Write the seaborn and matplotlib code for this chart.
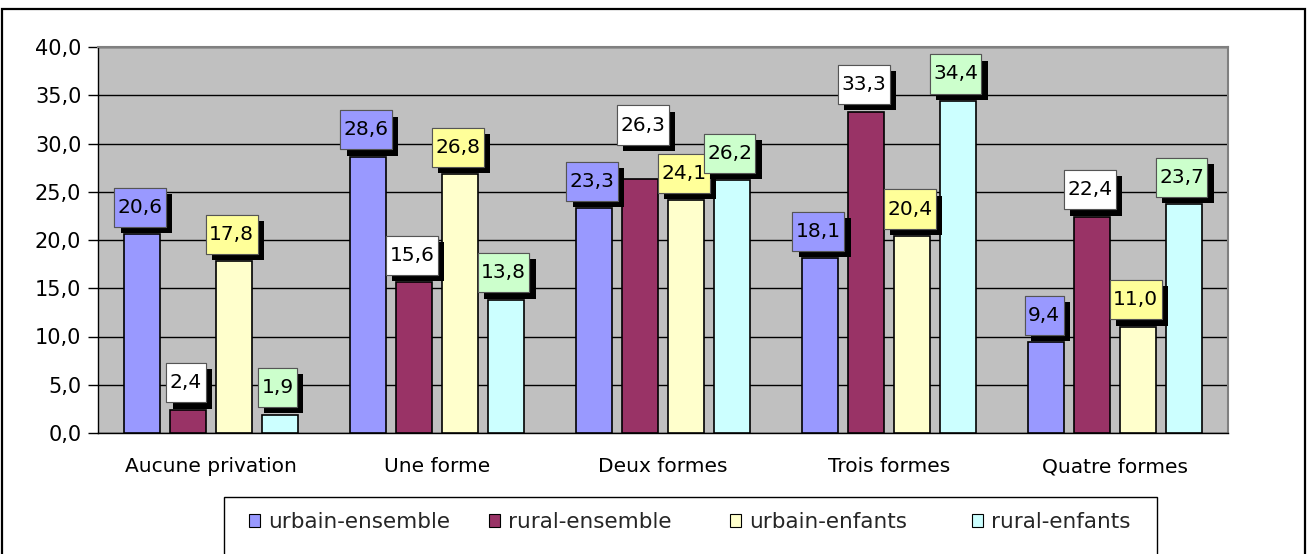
import matplotlib
matplotlib.use("Agg")
import matplotlib.pyplot as plt
import matplotlib.patheffects as pe
from matplotlib.patches import Patch, Rectangle
from matplotlib.path import Path
from matplotlib.ticker import FuncFormatter, MultipleLocator, FixedLocator
import pandas as pd
import seaborn as sns

# Data
categories = ["Aucune privation", "Une forme", "Deux formes", "Trois formes", "Quatre formes"]
series = ["urbain-ensemble", "rural-ensemble", "urbain-enfants", "rural-enfants"]
urbain_ensemble = [20.6, 28.6, 23.3, 18.1, 9.4]
rural_ensemble = [2.4, 15.6, 26.3, 33.3, 22.4]
urbain_enfants = [17.8, 26.8, 24.1, 20.4, 11.0]
rural_enfants = [1.9, 13.8, 26.2, 34.4, 23.7]

# Styling
bar_colors = ["#9999FF", "#993366", "#FFFFCC", "#CCFFFF"]
label_colors = ["#9999FF", "#FFFFFF", "#FFFF99", "#CCFFCC"]
# label nudges in points (relative to the default position above the bar)
label_nudges = {("Deux formes", "rural-ensemble"): (3.5, 19.5)}
# legend entry anchors (figure pixels, left edge of the swatch)
legend_x = [249, 489, 730, 972]

values = [urbain_ensemble, rural_ensemble, urbain_enfants, rural_enfants]
df = pd.DataFrame(
    [(cat, s, v) for s, vals in zip(series, values) for cat, v in zip(categories, vals)],
    columns=["categorie", "serie", "valeur"],
)

sns.set_style("white")
plt.rcParams["font.family"] = ["DejaVu Sans"]


def label_box(x0, y0, width, height, mutation_size, padx=0.17, pady=0.5):
    """Square box with separate horizontal and vertical padding."""
    px, py = padx * mutation_size, pady * mutation_size
    x0, y0, x1, y1 = x0 - px, y0 - py, x0 + width + px, y0 + height + py
    return Path([(x0, y0), (x1, y0), (x1, y1), (x0, y1), (x0, y0)], closed=True)


W, H = 1307, 554
fig = plt.figure(figsize=(W / 100, H / 100), dpi=100)
ax = fig.add_axes([98 / W, 1 - 433 / H, (1228 - 98) / W, (433 - 47) / H])
ax.set_facecolor("#C0C0C0")

sns.barplot(
    data=df, x="categorie", y="valeur", hue="serie", order=categories,
    hue_order=series, palette=bar_colors, saturation=1, width=0.81, gap=0.21,
    edgecolor="black", linewidth=1.2, errorbar=None, legend=False, ax=ax,
    zorder=3,
)

ax.set_ylim(0, 40)
ax.set_xlim(-0.5, len(categories) - 0.5)
ax.yaxis.set_major_locator(MultipleLocator(5))
ax.yaxis.set_major_formatter(FuncFormatter(lambda v, p: f"{v:.1f}".replace(".", ",")))
ax.grid(axis="y", color="black", linewidth=1.0, zorder=1)
ax.set_axisbelow(True)
ax.set_xlabel("")
ax.set_ylabel("")

# category boundaries carry the tick marks, labels sit at the centres
ax.xaxis.set_minor_locator(FixedLocator([i - 0.5 for i in range(len(categories) + 1)]))
ax.tick_params(axis="x", which="major", length=0, pad=17.5, labelsize=14.5, colors="black")
ax.tick_params(axis="x", which="minor", length=7, width=1, direction="out", color="black")
ax.tick_params(axis="y", which="major", length=7, width=1, direction="out", pad=5,
               labelsize=15, colors="black", left=True)

for side in ["left", "bottom"]:
    ax.spines[side].set_color("black")
    ax.spines[side].set_linewidth(1.0)
for side in ["top", "right"]:
    ax.spines[side].set_color("#808080")
    ax.spines[side].set_linewidth(1.5)

# Boxed value labels with a drop shadow
for s_idx, cont in enumerate(ax.containers):
    for c_idx, bar in enumerate(cont):
        val = values[s_idx][c_idx]
        dx, dy = label_nudges.get((categories[c_idx], series[s_idx]), (0, 0))
        t = ax.annotate(
            f"{val:.1f}".replace(".", ","),
            xy=(bar.get_x() + bar.get_width() / 2, bar.get_height()),
            xytext=(-1.5 + dx, 19.5 + dy), textcoords="offset points",
            ha="center", va="center", fontsize=14.5, color="black", zorder=6,
            bbox=dict(boxstyle=label_box, facecolor=label_colors[s_idx],
                      edgecolor="#555555", linewidth=0.8),
        )
        t.get_bbox_patch().set_path_effects([
            pe.withSimplePatchShadow(offset=(4.5, -4.5), shadow_rgbFace="black", alpha=1.0),
            pe.Normal(),
        ])

# Legend: one entry per anchor so the swatches sit at fixed positions
for name, color, x in zip(series, bar_colors, legend_x):
    fig.legend(
        [Patch(facecolor=color, edgecolor="black", linewidth=0.8)], [name],
        loc="center left", bbox_to_anchor=(x / W, 1 - 522 / H),
        frameon=False, fontsize=15.5, handlelength=0.5, handleheight=0.6,
        handletextpad=0.4, borderpad=0, borderaxespad=0,
    )
fig.add_artist(Rectangle((224 / W, -0.1), (1157 - 224) / W, 0.1 + 1 - 497 / H,
                         transform=fig.transFigure, facecolor="none",
                         edgecolor="black", linewidth=1.0))

# Chart frame
fig.add_artist(Rectangle((2 / W, -0.1), (1305 - 2) / W, 0.1 + 1 - 9 / H,
                         transform=fig.transFigure, facecolor="none",
                         edgecolor="black", linewidth=1.6))

fig.savefig("out.png", dpi=100)
